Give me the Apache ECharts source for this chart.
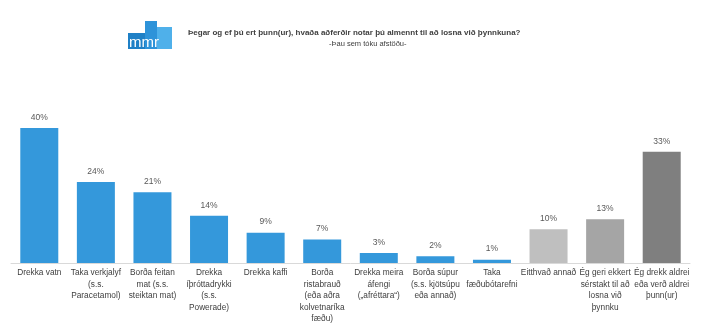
<!DOCTYPE html>
<html><head><meta charset="utf-8">
<script src="https://cdn.jsdelivr.net/npm/echarts@6/dist/echarts.min.js"></script>
<style>html,body{margin:0;padding:0;background:#fff}#c{width:713px;height:336px}</style>
</head><body><div id="c"></div>
<script>
const categories = [
  "Drekka vatn",
  "Taka verkjalyf\n(s.s.\nParacetamol)",
  "Borða feitan\nmat (s.s.\nsteiktan mat)",
  "Drekka\níþróttadrykki\n(s.s.\nPowerade)",
  "Drekka kaffi",
  "Borða\nristabrauð\n(eða aðra\nkolvetnaríka\nfæðu)",
  "Drekka meira\náfengi\n(„afréttara“)",
  "Borða súpur\n(s.s. kjötsúpu\neða annað)",
  "Taka\nfæðubótarefni",
  "Eitthvað annað",
  "Ég geri ekkert\nsérstakt til að\nlosna við\nþynnku",
  "Ég drekk aldrei\neða verð aldrei\nþunn(ur)"
];
const values = [40, 24, 21, 14, 9, 7, 3, 2, 1, 10, 13, 33];
const colors = ["#3498db","#3498db","#3498db","#3498db","#3498db","#3498db","#3498db","#3498db","#3498db","#bfbfbf","#a5a5a5","#7f7f7f"];
const titleText = "Þegar og ef þú ert þunn(ur), hvaða aðferðir notar þú almennt til að losna við þynnkuna?";
const subtitleText = "-Þau sem tóku afstöðu-";

const chart = echarts.init(document.getElementById('c'), null, {renderer:'canvas'});
chart.setOption({
  animation:false,
  grid:{left:11, right:23, top:96, bottom:73, containLabel:false},
  xAxis:{type:'category', data:categories,
    axisLine:{lineStyle:{color:'#d9d9d9'}}, axisTick:{show:false},
    axisLabel:{interval:0, color:'#404040', fontSize:8.3, fontFamily:'Liberation Sans, sans-serif', lineHeight:11.5, margin:4}},
  yAxis:{type:'value', min:0, max:49.5, show:false, splitLine:{show:false}},
  series:[{type:'bar', barWidth:38,
    data: values.map((v,i)=>({value:v, itemStyle:{color:colors[i]}})),
    label:{show:true, position:'top', formatter:'{c}%', color:'#595959', fontSize:8.5, fontFamily:'Liberation Sans, sans-serif', distance:6}}],
  graphic:[
    {type:'rect', shape:{x:128,y:33,width:17,height:16}, style:{fill:'#1f80c6'}},
    {type:'rect', shape:{x:145,y:21,width:12,height:28}, style:{fill:'#2e93d9'}},
    {type:'rect', shape:{x:157,y:27,width:15,height:22}, style:{fill:'#4fb0ea'}},
    {type:'text', left:129, top:35, style:{text:'mmr', fill:'#ffffff', font:'15px Liberation Sans, sans-serif'}},
    {type:'text', left:188, top:29, style:{text:titleText, fill:'#404040', font:'bold 8px Liberation Sans, sans-serif'}},
    {type:'text', left:329, top:40, style:{text:subtitleText, fill:'#404040', font:'7.5px Liberation Sans, sans-serif'}}
  ]
});
</script></body></html>
